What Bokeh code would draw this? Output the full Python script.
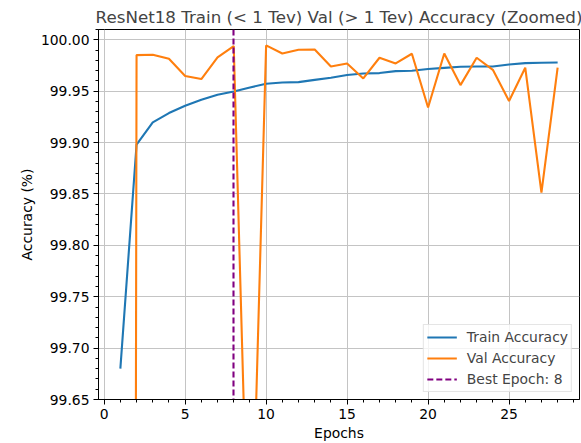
from bokeh.plotting import figure
from bokeh.models import Range1d, FixedTicker, NumeralTickFormatter
from bokeh.embed import file_html
from bokeh.resources import INLINE

epochs = list(range(1, 29))
train_acc = [99.680, 99.898, 99.9196, 99.9287, 99.9358, 99.9416, 99.9465, 99.9497,
             99.9536, 99.9572, 99.9585, 99.9588, 99.9610, 99.9630, 99.9657, 99.9672,
             99.9676, 99.9695, 99.9698, 99.9715, 99.9727, 99.9737, 99.9740, 99.9740,
             99.9760, 99.9773, 99.9776, 99.9779]
val_acc = [91.5, 99.9851, 99.9854, 99.9815, 99.9647, 99.9618, 99.9828, 99.9939,
           99.43, 99.9945, 99.9867, 99.9903, 99.9906, 99.9740, 99.9770, 99.9624,
           99.9825, 99.9770, 99.9864, 99.9341, 99.9867, 99.9559, 99.9825, 99.9708,
           99.9404, 99.9728, 99.8512, 99.9728]
best_epoch = 8
x_ticks = [0, 5, 10, 15, 20, 25]
x_minor = list(range(0, 30))
y_ticks = [99.65, 99.70, 99.75, 99.80, 99.85, 99.90, 99.95, 100.00]
y_minor = [round(99.65 + 0.01 * i, 2) for i in range(0, 37)]

FONT = "DejaVu Sans"

p = figure(width=581, height=443, output_backend="svg", toolbar_location=None,
           x_range=Range1d(-0.35, 29.35), y_range=Range1d(99.65, 100.01),
           min_border_left=98, min_border_right=2, min_border_top=29, min_border_bottom=44,
           title="ResNet18 Train (< 1 Tev) Val (> 1 Tev) Accuracy (Zoomed)")

p.title.text_font = FONT
p.title.text_font_size = "16.7px"
p.title.text_font_style = "normal"
p.title.align = "center"
p.title.standoff = 5

p.background_fill_color = "white"
p.border_fill_color = "white"
p.outline_line_color = "black"
p.outline_line_width = 1

p.xaxis.ticker = FixedTicker(ticks=x_ticks, minor_ticks=x_minor)
p.yaxis.ticker = FixedTicker(ticks=y_ticks, minor_ticks=y_minor)
p.yaxis.formatter = NumeralTickFormatter(format="0.00")

for ax in (p.xaxis, p.yaxis):
    ax.major_label_text_font = FONT
    ax.major_label_text_font_size = "13.9px"
    ax.major_label_text_color = "black"
    ax.axis_label_text_font = FONT
    ax.axis_label_text_font_size = "13.9px"
    ax.axis_label_text_font_style = "normal"
    ax.axis_label_text_color = "black"
    ax.axis_line_color = "black"
    ax.major_tick_line_color = "black"
    ax.minor_tick_line_color = "black"
    ax.major_tick_in = 0
    ax.major_tick_out = 5
    ax.minor_tick_in = 0
    ax.minor_tick_out = 3
    ax.major_label_standoff = 4

p.xaxis.axis_label = "Epochs"
p.yaxis.axis_label = "Accuracy (%)"
p.yaxis.axis_label_standoff = 3
p.xaxis.axis_label_standoff = 3

p.grid.grid_line_color = "#c4c4c4"
p.grid.grid_line_width = 1

p.line(epochs, train_acc, line_color="#1f77b4", line_width=2.1, legend_label="Train Accuracy")
p.line(epochs, val_acc, line_color="#ff7f0e", line_width=2.1, legend_label="Val Accuracy")
p.vspan(x=[best_epoch], line_color="purple", line_width=2.1, line_dash="6 3",
        legend_label=f"Best Epoch: {best_epoch}")

lg = p.legend[0]
lg.location = "bottom_right"
lg.label_text_font = FONT
lg.label_text_font_size = "13.9px"
lg.glyph_width = 30
lg.glyph_height = 18
lg.label_height = 18
lg.label_width = 100
lg.label_standoff = 10
lg.spacing = 3
lg.padding = 3
lg.margin = 7
lg.border_line_color = "#cccccc"
lg.border_line_width = 1
lg.background_fill_alpha = 0.8

open("out.html", "w").write(file_html(p, INLINE))
